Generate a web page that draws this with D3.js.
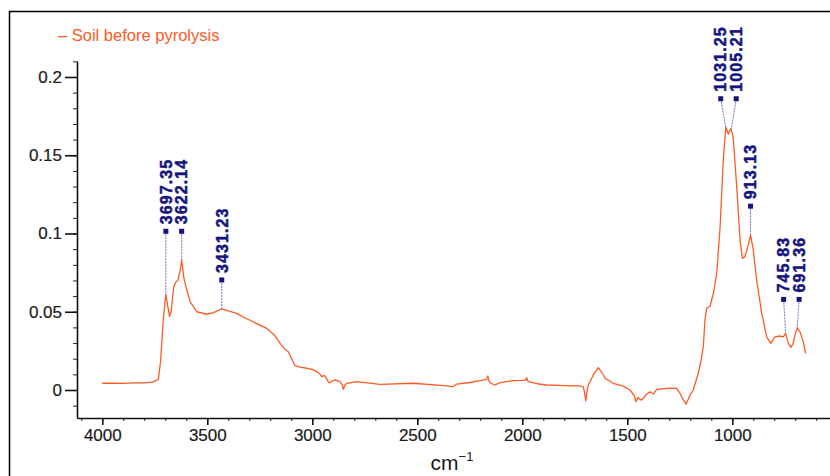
<!DOCTYPE html>
<html>
<head>
<meta charset="utf-8">
<script src="https://cdn.jsdelivr.net/npm/d3@7"></script>
<style>
  body { margin: 0; background: #fff; }
  svg { display: block; font-family: "Liberation Sans", Arial, sans-serif; }
</style>
</head>
<body>
<div id="chart"></div>
<script>
var width = 830,
  height = 476;

// spectrum (cm-1, absorbance)
var wavenumber = [4000, 3950, 3900, 3850, 3800, 3760, 3745, 3733, 3722, 3710, 3700, 3697, 3690, 3680, 3672, 3660, 3650, 3640, 3630, 3622,
  3612, 3600, 3582, 3550, 3503, 3470, 3431, 3400, 3360, 3320, 3282, 3250, 3217, 3180, 3154, 3130, 3114, 3095, 3082, 3058,
  3027, 2997, 2971, 2960, 2955, 2945, 2940, 2925, 2919, 2905, 2892, 2868, 2858, 2852, 2845, 2836, 2789, 2678, 2519, 2360,
  2331, 2312, 2250, 2201, 2170, 2164, 2158, 2150, 2130, 2106, 2043, 2000, 1985, 1979, 1972, 1930, 1884, 1800, 1725, 1710,
  1703, 1698, 1692, 1686, 1660, 1638, 1620, 1606, 1567, 1520, 1487, 1465, 1459, 1448, 1440, 1431, 1410, 1392, 1376, 1360,
  1300, 1265, 1249, 1235, 1220, 1200, 1186, 1162, 1150, 1138, 1130, 1122, 1106, 1090, 1074, 1058, 1043, 1031, 1019, 1008,
  1000, 995, 979, 963, 952, 940, 924, 913, 900, 884, 860, 836, 817, 797, 773, 757, 746, 733, 720, 710,
  700, 691, 678, 662, 651];
var absorbance = [0.0043, 0.0044, 0.0042, 0.0045, 0.0046, 0.0050, 0.0060, 0.0070, 0.019, 0.0447, 0.058, 0.0607, 0.055, 0.047, 0.050, 0.066, 0.069, 0.070, 0.076, 0.083,
  0.072, 0.065, 0.0565, 0.050, 0.0484, 0.0495, 0.0518, 0.0505, 0.049, 0.046, 0.0436, 0.0415, 0.0394, 0.035, 0.0300, 0.026, 0.0245, 0.019, 0.0155, 0.0146,
  0.0139, 0.0130, 0.0111, 0.0095, 0.0085, 0.0092, 0.0090, 0.0055, 0.0045, 0.0058, 0.0064, 0.0053, 0.0035, 0.0004, 0.0030, 0.0043, 0.0053, 0.0036, 0.0043, 0.0026,
  0.0021, 0.0038, 0.0048, 0.0060, 0.0068, 0.0090, 0.0055, 0.0043, 0.0032, 0.0047, 0.0060, 0.0062, 0.0065, 0.0078, 0.0053, 0.0040, 0.0032, 0.0028, 0.0026, 0.0021,
  -0.002, -0.0070, -0.001, 0.0032, 0.010, 0.0143, 0.011, 0.0075, 0.0043, 0.0025, 0.0000, -0.004, -0.0075, -0.0047, -0.0060, -0.0064, -0.003, -0.0011, -0.0026, 0.0004,
  0.0012, 0.0011, -0.0021, -0.006, -0.0090, -0.003, 0.0000, 0.0107, 0.018, 0.0277, 0.045, 0.0522, 0.0535, 0.0618, 0.0746, 0.1043, 0.147, 0.168, 0.1636, 0.167,
  0.164, 0.160, 0.130, 0.0958, 0.0841, 0.0852, 0.0927, 0.099, 0.0895, 0.0703, 0.049, 0.034, 0.0298, 0.034, 0.0345, 0.034, 0.0362, 0.0298, 0.0273, 0.0298,
  0.036, 0.0395, 0.0373, 0.0309, 0.0234];

var seriesName = 'Soil before pyrolysis';
var peakWavenumbers = [3697.35, 3622.14, 3431.23, 1031.25, 1005.21, 913.13, 745.83, 691.36];
var xTicks = [4000, 3500, 3000, 2500, 2000, 1500, 1000];
var yTicks = [0, 0.05, 0.1, 0.15, 0.2];

var lineColour = '#ff5a24',
  labelColour = '#14147e';

var x = d3.scaleLinear().domain([4120.5, 534.7]).range([77, 830]);
var y = d3.scaleLinear().domain([-0.01789, 0.21022]).range([418, 61]);

var svg = d3.select('#chart').append('svg')
  .attr('width', width)
  .attr('height', height);

// outer frame (only left and top edges show)
svg.append('rect')
  .attr('x', 9.5).attr('y', 11.5)
  .attr('width', 900).attr('height', 500)
  .attr('fill', 'none')
  .attr('stroke', '#000')
  .attr('stroke-width', 1.5);

// minor ticks
var xMinor = d3.range(4100, 500, -100);
var yMinor = d3.range(-1, 22).map(function (i) { return i / 100; });

svg.append('g')
  .attr('transform', 'translate(0,418)')
  .call(d3.axisBottom(x).tickValues(xMinor).tickSize(3).tickFormat(''))
  .call(function (g) { g.select('.domain').remove(); g.selectAll('line').attr('stroke', '#222'); });

svg.append('g')
  .attr('transform', 'translate(77,0)')
  .call(d3.axisLeft(y).tickValues(yMinor).tickSize(4).tickFormat(''))
  .call(function (g) { g.select('.domain').remove(); g.selectAll('line').attr('stroke', '#222'); });

// major axes
var xAxis = svg.append('g')
  .attr('transform', 'translate(0,418)')
  .call(d3.axisBottom(x).tickValues(xTicks).tickSize(7).tickSizeOuter(0).tickPadding(4).tickFormat(d3.format('d')));

var yAxis = svg.append('g')
  .attr('transform', 'translate(77,0)')
  .call(d3.axisLeft(y).tickValues(yTicks).tickSize(12).tickSizeOuter(0).tickPadding(3).tickFormat(function (d) { return d3.format('~g')(d); }));

[xAxis, yAxis].forEach(function (g) {
  g.select('.domain').attr('stroke', '#111').attr('stroke-width', 1.6);
  g.selectAll('.tick line').attr('stroke', '#111').attr('stroke-width', 1.6);
  g.selectAll('.tick text')
    .attr('fill', '#1a1a1a')
    .attr('stroke', '#1a1a1a')
    .attr('stroke-width', 0.2)
    .style('font-size', '17px')
    .style('font-family', '"Liberation Sans", Arial, sans-serif');
});

// x axis title: cm-1
var title = svg.append('text')
  .attr('x', 452)
  .attr('y', 470)
  .attr('text-anchor', 'middle')
  .attr('fill', '#1a1a1a')
  .style('font-size', '21px');
title.append('tspan').text('cm');
title.append('tspan').attr('dy', -9).style('font-size', '13px').text('−1');

// spectrum
var pts = wavenumber.map(function (w, i) { return [w, absorbance[i]]; });
var line = d3.line()
  .x(function (d) { return x(d[0]); })
  .y(function (d) { return y(d[1]); });

svg.append('path')
  .datum(pts)
  .attr('d', line)
  .attr('fill', 'none')
  .attr('stroke', lineColour)
  .attr('stroke-width', 1.3)
  .attr('stroke-linejoin', 'round');

// legend
svg.append('text')
  .attr('x', 58).attr('y', 41)
  .attr('fill', lineColour)
  .style('font-size', '16.5px')
  .text('– ' + seriesName);

// peak labels
function valueAt(w) {
  // wavenumber is descending
  for (var i = 0; i < wavenumber.length - 1; i++) {
    if (w <= wavenumber[i] && w >= wavenumber[i + 1]) {
      var t = (wavenumber[i] - w) / (wavenumber[i] - wavenumber[i + 1]);
      return absorbance[i] + t * (absorbance[i + 1] - absorbance[i]);
    }
  }
  return 0;
}

var peaks = peakWavenumbers.map(function (w) {
  var px = x(w), py = y(valueAt(w));
  return { w: w, px: px, py: py, lx: px, ly: py - 29 };
});

// group labels that sit close together, spread them and align their tops
var groups = [];
peaks.forEach(function (p) {
  var last = groups[groups.length - 1];
  if (last && p.px - last[last.length - 1].px < 17) last.push(p);
  else groups.push([p]);
});
groups.forEach(function (g) {
  var minY = d3.min(g, function (p) { return p.ly; });
  var mid = d3.mean(g, function (p) { return p.px; });
  var gap = 15.5;
  g.forEach(function (p, i) {
    p.ly = minY;
    if (g.length > 1) {
      var spread = (g.length - 1) * gap;
      if (g[g.length - 1].px - g[0].px < spread) p.lx = mid - spread / 2 + i * gap;
    }
  });
});

var ann = svg.append('g');
ann.selectAll('line.lead')
  .data(peaks).enter().append('line')
  .attr('class', 'lead')
  .attr('x1', function (d) { return d.lx; })
  .attr('y1', function (d) { return d.ly; })
  .attr('x2', function (d) { return d.px; })
  .attr('y2', function (d) { return d.py; })
  .attr('stroke', '#7f7fc4')
  .attr('stroke-width', 1.1)
  .attr('stroke-dasharray', '2,1');

ann.selectAll('rect')
  .data(peaks).enter().append('rect')
  .attr('x', function (d) { return d.lx - 2.5; })
  .attr('y', function (d) { return d.ly - 2.5; })
  .attr('width', 5).attr('height', 5)
  .attr('fill', labelColour);

ann.selectAll('text')
  .data(peaks).enter().append('text')
  .attr('transform', function (d) { return 'translate(' + d.lx + ',' + (d.ly - 7) + ') rotate(-90)'; })
  .attr('dy', '0.36em')
  .attr('fill', labelColour)
  .attr('stroke', labelColour)
  .attr('stroke-width', 0.5)
  .style('font-size', '16px')
  .style('font-weight', 'bold')
  .style('letter-spacing', '1.1px')
  .text(function (d) { return d.w.toFixed(2); });
</script>
</body>
</html>
